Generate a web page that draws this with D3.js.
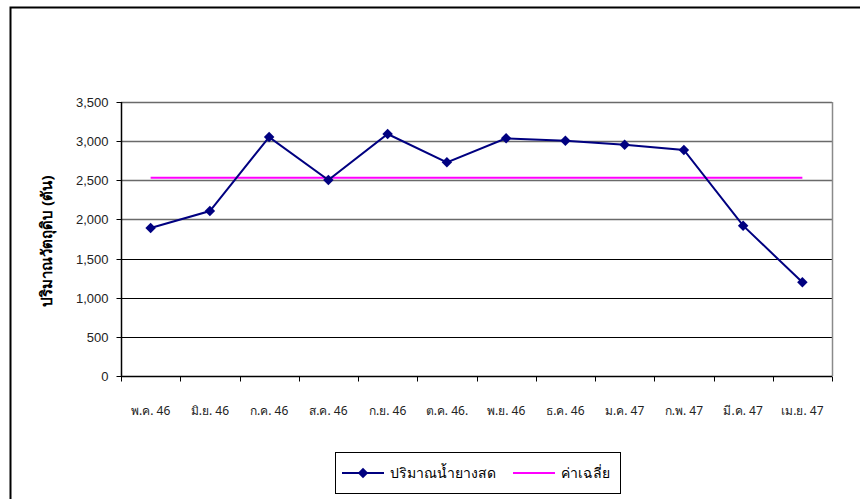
<!DOCTYPE html>
<html>
<head>
<meta charset="utf-8">
<script src="https://cdn.jsdelivr.net/npm/d3@7/dist/d3.min.js"></script>
<style>
  body { margin: 0; background: #fff; }
  svg { display: block; font-family: "Liberation Sans", Arial, "Noto Sans", sans-serif; }
</style>
</head>
<body>
<svg id="chart" width="860" height="499"></svg>
<script>
// Monthly fresh latex volume (tonnes), May 2546 – April 2547
const months = ["พ.ค. 46", "มิ.ย. 46", "ก.ค. 46", "ส.ค. 46", "ก.ย. 46", "ต.ค. 46.",
                "พ.ย. 46", "ธ.ค. 46", "ม.ค. 47", "ก.พ. 47", "มี.ค. 47", "เม.ย. 47"];
const latex = [1890, 2107, 3052, 2503, 3091, 2729, 3036, 3006, 2955, 2887, 1920, 1197];
const yTicks = [0, 500, 1000, 1500, 2000, 2500, 3000, 3500];
const seriesNames = ["ปริมาณน้ำยางสด", "ค่าเฉลี่ย"];
const yTitle = "ปริมาณวัตถุดิบ (ตัน)";

// Average line: the mean of the monthly values, repeated for every month
const avgValue = d3.mean(latex);
const average = months.map(() => avgValue);

const svg = d3.select("#chart");
const W = 860, H = 499;
const plot = { left: 121, right: 832, top: 102, bottom: 376 };

// Outer chart frame
svg.append("rect")
  .attr("x", 10.5).attr("y", 7.5)
  .attr("width", W + 20).attr("height", H + 20)
  .attr("fill", "#fff").attr("stroke", "#000").attr("stroke-width", 2);

const x = d3.scaleBand().domain(months).range([plot.left, plot.right]);
const y = d3.scaleLinear().domain([0, 3500]).range([plot.bottom, plot.top]);

// Horizontal gridlines
svg.append("g")
  .selectAll("line")
  .data(yTicks.filter(t => t > 0))
  .join("line")
  .attr("x1", plot.left).attr("x2", plot.right)
  .attr("y1", d => Math.round(y(d)) + 0.5).attr("y2", d => Math.round(y(d)) + 0.5)
  .attr("stroke", d => d >= 2000 ? "#6a6a6a" : "#000")
  .attr("stroke-width", d => d >= 2000 ? 1.3 : 1);

// Right plot-area border
svg.append("line")
  .attr("x1", plot.right + 0.5).attr("x2", plot.right + 0.5)
  .attr("y1", plot.top).attr("y2", plot.bottom)
  .attr("stroke", "#8a8a8a").attr("stroke-width", 1.5);

// Y axis
const yAxis = svg.append("g")
  .attr("transform", `translate(${plot.left + 0.5},0)`)
  .call(d3.axisLeft(y).tickValues(yTicks).tickSize(5).tickPadding(8)
        .tickFormat(d3.format(",")));
yAxis.select(".domain").attr("stroke", "#000").attr("stroke-width", 1.5)
  .attr("d", `M0,${plot.top}V${plot.bottom}`);
yAxis.selectAll(".tick line").attr("stroke", "#000");
yAxis.selectAll(".tick").attr("transform", d => `translate(0,${Math.round(y(d)) + 0.5})`);
yAxis.selectAll("text").attr("font-size", 13).attr("fill", "#222")
  .attr("font-family", "'Liberation Sans', Arial, sans-serif");

// X axis with ticks at category boundaries
const xAxisG = svg.append("g")
  .attr("transform", `translate(0,${plot.bottom + 0.5})`);
xAxisG.append("line")
  .attr("x1", plot.left).attr("x2", plot.right)
  .attr("stroke", "#000").attr("stroke-width", 1.5);
const boundaries = months.map(m => x(m)).concat([x(months[months.length - 1]) + x.bandwidth()]);
xAxisG.selectAll("line.tk")
  .data(boundaries)
  .join("line").attr("class", "tk")
  .attr("x1", d => Math.round(d) + 0.5).attr("x2", d => Math.round(d) + 0.5)
  .attr("y1", 0).attr("y2", 5)
  .attr("stroke", "#000");
xAxisG.selectAll("text")
  .data(months)
  .join("text")
  .attr("x", d => x(d) + x.bandwidth() / 2)
  .attr("y", 38)
  .attr("text-anchor", "middle")
  .attr("font-size", 12)
  .attr("fill", "#222")
  .attr("font-family", "'Noto Sans', 'Liberation Sans', sans-serif")
  .text(d => d);

// Y-axis title
svg.append("text")
  .attr("transform", `translate(52,${(plot.top + plot.bottom) / 2 + 2}) rotate(-90)`)
  .attr("text-anchor", "middle")
  .attr("font-size", 15)
  .attr("font-weight", "bold")
  .attr("fill", "#000")
  .attr("font-family", "'Noto Sans', 'Liberation Sans', sans-serif")
  .text(yTitle);

const cx = d => x(d) + x.bandwidth() / 2;

// Average line
svg.append("path")
  .datum(average)
  .attr("fill", "none")
  .attr("stroke", "#ff00ff")
  .attr("stroke-width", 2)
  .attr("d", d3.line().x((d, i) => cx(months[i])).y(d => y(d)));

// Latex volume line
svg.append("path")
  .datum(latex)
  .attr("fill", "none")
  .attr("stroke", "#000080")
  .attr("stroke-width", 2)
  .attr("d", d3.line().x((d, i) => cx(months[i])).y(d => y(d)));

const diamond = d3.symbol().type(d3.symbolDiamond2).size(70);
svg.append("g")
  .selectAll("path")
  .data(latex)
  .join("path")
  .attr("transform", (d, i) => `translate(${cx(months[i])},${y(d)})`)
  .attr("d", diamond)
  .attr("fill", "#000080");

// Legend
const lg = svg.append("g");
lg.append("rect")
  .attr("x", 335.5).attr("y", 452.5).attr("width", 285).attr("height", 41)
  .attr("fill", "#fff").attr("stroke", "#000").attr("stroke-width", 1);
lg.append("line").attr("x1", 342).attr("x2", 384).attr("y1", 473).attr("y2", 473)
  .attr("stroke", "#000080").attr("stroke-width", 2);
lg.append("path").attr("transform", "translate(363,473)").attr("d", diamond).attr("fill", "#000080");
lg.append("text").attr("x", 390).attr("y", 478).attr("font-size", 14)
  .attr("font-family", "'Noto Sans', 'Liberation Sans', sans-serif").attr("fill", "#000")
  .text(seriesNames[0]);
lg.append("line").attr("x1", 513).attr("x2", 555).attr("y1", 473).attr("y2", 473)
  .attr("stroke", "#ff00ff").attr("stroke-width", 2);
lg.append("text").attr("x", 561).attr("y", 478).attr("font-size", 14)
  .attr("font-family", "'Noto Sans', 'Liberation Sans', sans-serif").attr("fill", "#000")
  .text(seriesNames[1]);
</script>
</body>
</html>
